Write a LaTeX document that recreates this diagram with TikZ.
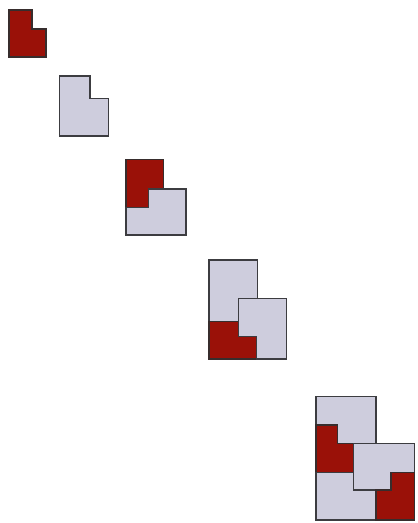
\documentclass[tikz,border=0pt]{standalone}
\begin{document}
\begin{tikzpicture}[x=1pt,y=-1pt,
  redtile/.style={fill={rgb,255:red,154;green,17;blue,8}, draw={rgb,255:red,55;green,45;blue,45}, line width=1.4pt, line join=miter},
  greytile/.style={fill={rgb,255:red,206;green,205;blue,221}, draw={rgb,255:red,60;green,60;blue,64}, line width=1.4pt, line join=miter}]
\useasboundingbox (0,0) rectangle (418,523);
% 1
\draw[redtile] (9,10) -- (32,10) -- (32,29) -- (46,29) -- (46,57) -- (9,57) -- cycle;
% 2
\draw[greytile] (59.5,76) -- (90,76) -- (90,98.5) -- (108.5,98.5) -- (108.5,136) -- (59.5,136) -- cycle;
% 3
\draw[redtile] (126,159.3) -- (163.3,159.3) -- (163.3,189) -- (148.3,189) -- (148.3,207.3) -- (126,207.3) -- cycle;
\draw[greytile] (126,207.3) -- (148.3,207.3) -- (148.3,189) -- (186,189) -- (186,235) -- (126,235) -- cycle;
% 4
\draw[greytile] (209,260) -- (257.7,260) -- (257.7,298.3) -- (238.3,298.3) -- (238.3,321.7) -- (209,321.7) -- cycle;
\draw[redtile] (209,321.7) -- (238.3,321.7) -- (238.3,336.7) -- (256.7,336.7) -- (256.7,359) -- (209,359) -- cycle;
\draw[greytile] (238.3,298.3) -- (286.7,298.3) -- (286.7,359) -- (256.7,359) -- (256.7,336.7) -- (238.3,336.7) -- cycle;
% 5
\draw[greytile] (316,396.7) -- (376,396.7) -- (376,443.3) -- (337.7,443.3) -- (337.7,425) -- (316,425) -- cycle;
\draw[redtile] (316,425) -- (337.7,425) -- (337.7,443.3) -- (353.3,443.3) -- (353.3,472.7) -- (316,472.7) -- cycle;
\draw[greytile] (316,472.7) -- (353.3,472.7) -- (353.3,490) -- (376,490) -- (376,520) -- (316,520) -- cycle;
\draw[greytile] (353.3,443.3) -- (414.3,443.3) -- (414.3,472.7) -- (391,472.7) -- (391,490) -- (353.3,490) -- cycle;
\draw[redtile] (391,472.7) -- (414.3,472.7) -- (414.3,520) -- (376,520) -- (376,490) -- (391,490) -- cycle;
\end{tikzpicture}
\end{document}
